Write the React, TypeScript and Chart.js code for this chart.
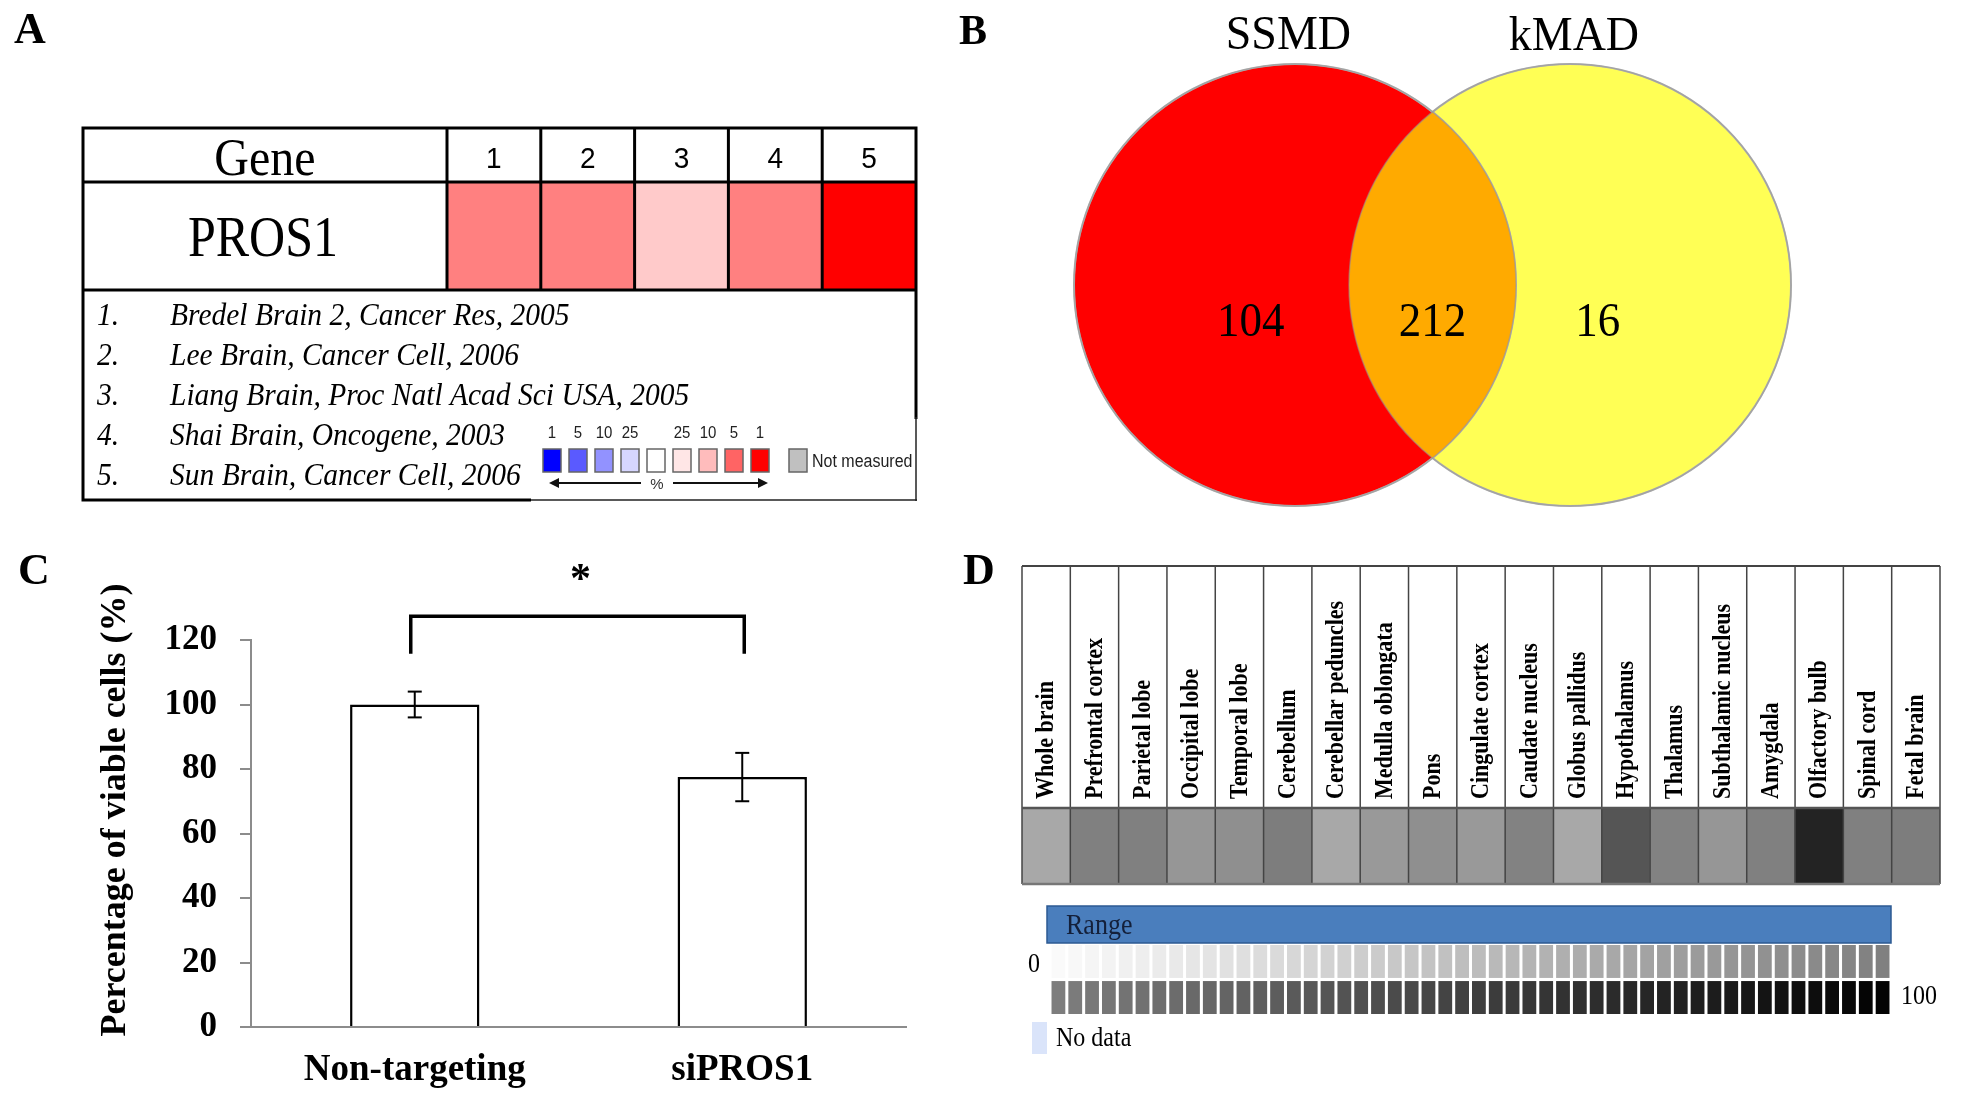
import React, { useEffect, useRef } from 'react';
import { Chart, registerables } from 'chart.js';

Chart.register(...registerables);

const W = 1964;
const H = 1104;
const SERIF = '"Liberation Serif", "Times New Roman", serif';
const SANS = '"Liberation Sans", Arial, sans-serif';

// ---------- Panel A data ----------
const studyNumbers = ['1', '2', '3', '4', '5'];
const studyRefs = [
  'Bredel Brain 2, Cancer Res, 2005',
  'Lee Brain, Cancer Cell, 2006',
  'Liang Brain, Proc Natl Acad Sci USA, 2005',
  'Shai Brain, Oncogene, 2003',
  'Sun Brain, Cancer Cell, 2006',
];
const geneName = 'PROS1';
const pros1TopPercent = [5, 5, 10, 5, 1];
const legendPercentLabels = ['1', '5', '10', '25', '', '25', '10', '5', '1'];

// ---------- Panel B data ----------
const vennSetLabels = ['SSMD', 'kMAD'];
const vennCounts = [104, 212, 16];

// ---------- Panel C data ----------
const viabilityGroups = ['Non-targeting', 'siPROS1'];
const viabilityMeans = [100, 77.5];
const viabilityErrors = [4, 7.5];
const viabilityTicks = [0, 20, 40, 60, 80, 100, 120];

// ---------- Panel D data ----------
const brainRegions = [
  'Whole brain', 'Prefrontal cortex', 'Parietal lobe', 'Occipital lobe', 'Temporal lobe',
  'Cerebellum', 'Cerebellar peduncles', 'Medulla oblongata', 'Pons', 'Cingulate cortex',
  'Caudate nucleus', 'Globus pallidus', 'Hypothalamus', 'Thalamus', 'Subthalamic nucleus',
  'Amygdala', 'Olfactory bulb', 'Spinal cord', 'Fetal brain',
];
const regionExpression = [33, 49, 49, 40, 43, 50, 33, 39, 43, 39, 48, 33, 66, 48, 40, 49, 86, 49, 50];
// colour key levels 0..99 of the "Range" scale
const rangeSteps = Array.from({ length: 100 }, (_, i) => i);

// ---------- styles ----------
const upColors: Record<number, string> = { 1: '#ff0000', 5: '#ff8080', 10: '#ffcaca', 25: '#ffe6e6' };
const legendColors = ['#0000ff', '#5a5aff', '#9292ff', '#d6d6ff', '#ffffff', '#ffe6e6', '#ffbcbc', '#ff6464', '#ff0000'];
const grayFor = (v: number) => {
  const g = Math.max(0, Math.round(250 - 2.5 * v));
  return `rgb(${g},${g},${g})`;
};

function txt(ctx: any, s: string, x: number, y: number, font: string, align = 'left', baseline = 'alphabetic', color = '#000', sy = 1) {
  ctx.save();
  ctx.font = font;
  ctx.textAlign = align;
  ctx.textBaseline = baseline;
  ctx.fillStyle = color;
  ctx.translate(x, y);
  ctx.scale(1, sy);
  ctx.fillText(s, 0, 0);
  ctx.restore();
}

function line(ctx: any, x1: number, y1: number, x2: number, y2: number, w: number, color: string) {
  ctx.save();
  ctx.beginPath();
  ctx.moveTo(x1, y1);
  ctx.lineTo(x2, y2);
  ctx.lineWidth = w;
  ctx.strokeStyle = color;
  ctx.stroke();
  ctx.restore();
}

const baseOpts = {
  responsive: false,
  animation: false as const,
  devicePixelRatio: 1,
  events: [] as any[],
};

// ---------- Panel A ----------
const tablePlugin = {
  id: 'tableA',
  afterDraw(chart: any) {
    const { ctx, chartArea: ca, scales } = chart;
    const x = scales.x;
    const L = 83, T = 128, B = 500, R = ca.right;
    const half = (x.getPixelForValue(1) - x.getPixelForValue(0)) / 2;
    txt(ctx, 'A', 14, 43, `bold 44px ${SERIF}`);
    ctx.save();
    ctx.lineWidth = 3;
    ctx.strokeStyle = '#000';
    ctx.strokeRect(L, T, R - L, B - T);
    ctx.restore();
    line(ctx, L, ca.top, R, ca.top, 3, '#000');
    line(ctx, L, ca.bottom, R, ca.bottom, 3, '#000');
    line(ctx, ca.left, T, ca.left, ca.bottom, 3, '#000');
    studyNumbers.forEach((n, i) => {
      const cx = x.getPixelForValue(i);
      if (i > 0) line(ctx, cx - half, T, cx - half, ca.bottom, 3, '#000');
      txt(ctx, n, cx, 168, `28px ${SANS}`, 'center', 'alphabetic', '#000', 1.08);
    });
    txt(ctx, 'Gene', (L + ca.left) / 2, 175, `48px ${SERIF}`, 'center', 'alphabetic', '#000', 1.08);
    txt(ctx, geneName, (L + ca.left) / 2 - 2, 256, `50px ${SERIF}`, 'center', 'alphabetic', '#000', 1.14);
    studyRefs.forEach((r, i) => {
      const y = 325 + i * 40;
      txt(ctx, `${i + 1}.`, 97, y, `italic 29.5px ${SERIF}`, 'left', 'alphabetic', '#000', 1.08);
      txt(ctx, r, 170, y, `italic 29.5px ${SERIF}`, 'left', 'alphabetic', '#000', 1.08);
    });
    // legend box
    ctx.save();
    ctx.fillStyle = '#fff';
    ctx.fillRect(531, 419, R - 531 + 3, B - 419 + 3);
    ctx.restore();
    line(ctx, R, 417, R, B + 1, 1.5, '#222');
    line(ctx, 531, B, R + 1, B, 1.5, '#222');
    legendColors.forEach((c, i) => {
      const sx = 543 + i * 26;
      ctx.save();
      ctx.fillStyle = c;
      ctx.fillRect(sx, 449, 18, 23);
      ctx.lineWidth = 1.5;
      ctx.strokeStyle = '#666';
      ctx.strokeRect(sx, 449, 18, 23);
      ctx.restore();
      if (legendPercentLabels[i]) txt(ctx, legendPercentLabels[i], sx + 9, 433, `15px ${SANS}`, 'center', 'middle', '#222', 1.1);
    });
    ctx.save();
    ctx.fillStyle = '#c0c0c0';
    ctx.fillRect(789, 449, 18, 23);
    ctx.lineWidth = 1.5;
    ctx.strokeStyle = '#666';
    ctx.strokeRect(789, 449, 18, 23);
    ctx.restore();
    txt(ctx, 'Not measured', 812, 462, `16px ${SANS}`, 'left', 'middle', '#222', 1.1);
    line(ctx, 556, 483, 641, 483, 2, '#111');
    line(ctx, 673, 483, 760, 483, 2, '#111');
    ctx.save();
    ctx.fillStyle = '#111';
    ctx.beginPath();
    ctx.moveTo(549, 483); ctx.lineTo(559, 478); ctx.lineTo(559, 488); ctx.closePath(); ctx.fill();
    ctx.beginPath();
    ctx.moveTo(768, 483); ctx.lineTo(758, 478); ctx.lineTo(758, 488); ctx.closePath(); ctx.fill();
    ctx.restore();
    txt(ctx, '%', 657, 485, `15px ${SANS}`, 'center', 'middle', '#333');
  },
};

function makeA(canvas: HTMLCanvasElement) {
  return new Chart(canvas, {
    type: 'bar',
    data: {
      labels: studyNumbers,
      datasets: [{
        data: studyNumbers.map(() => [0, 1]) as any,
        backgroundColor: pros1TopPercent.map((p) => upColors[p]),
        borderWidth: 0,
        categoryPercentage: 1,
        barPercentage: 1,
      }],
    },
    options: {
      ...baseOpts,
      layout: { padding: { left: 447, right: W - 916, top: 182, bottom: H - 290 } },
      scales: { x: { display: false }, y: { display: false, min: 0, max: 1 } },
      plugins: { legend: { display: false }, tooltip: { enabled: false } },
    } as any,
    plugins: [tablePlugin],
  });
}

// ---------- Panel B ----------
const VENN_OFFSET = 275 / 221;
const vennLabelX = [-0.2, VENN_OFFSET / 2, 1.37];
const vennPlugin = {
  id: 'venn',
  afterDatasetsDraw(chart: any) {
    const { ctx, scales: { x, y } } = chart;
    const p0 = chart.getDatasetMeta(0).data[0];
    const p1 = chart.getDatasetMeta(1).data[0];
    const r0 = p0.options.radius;
    const r1 = p1.options.radius;
    ctx.save();
    ctx.beginPath();
    ctx.arc(p0.x, p0.y, r0, 0, Math.PI * 2);
    ctx.clip();
    ctx.beginPath();
    ctx.arc(p1.x, p1.y, r1, 0, Math.PI * 2);
    ctx.fillStyle = '#ffaa00';
    ctx.fill();
    ctx.restore();
    ctx.save();
    ctx.lineWidth = 1.5;
    ctx.strokeStyle = 'rgba(150,150,150,0.55)';
    ctx.beginPath(); ctx.arc(p0.x, p0.y, r0, 0, Math.PI * 2); ctx.stroke();
    ctx.beginPath(); ctx.arc(p1.x, p1.y, r1, 0, Math.PI * 2); ctx.stroke();
    ctx.restore();
    vennCounts.forEach((c, i) => {
      txt(ctx, String(c), x.getPixelForValue(vennLabelX[i]), y.getPixelForValue(-0.185) + 10, `45px ${SERIF}`, 'center', 'alphabetic', '#000', 1.08);
    });
    txt(ctx, vennSetLabels[0], x.getPixelForValue(-0.03), 49, `46px ${SERIF}`, 'center', 'alphabetic', '#000', 1.05);
    txt(ctx, vennSetLabels[1], x.getPixelForValue(1.262), 50, `46px ${SERIF}`, 'center', 'alphabetic', '#000', 1.05);
    txt(ctx, 'B', 959, 44, `bold 42px ${SERIF}`);
  },
};

function makeB(canvas: HTMLCanvasElement) {
  const rad = (c: any) => {
    const s = c.chart.scales.x;
    return s ? Math.abs(s.getPixelForValue(1) - s.getPixelForValue(0)) : 0;
  };
  return new Chart(canvas, {
    type: 'scatter',
    data: {
      datasets: [
        {
          label: vennSetLabels[0], data: [{ x: 0, y: 0 }],
          pointBackgroundColor: '#ff0000', pointBorderColor: '#b4b4b4', pointBorderWidth: 2,
          pointRadius: rad, clip: false,
        },
        {
          label: vennSetLabels[1], data: [{ x: VENN_OFFSET, y: 0 }],
          pointBackgroundColor: '#ffff55', pointBorderColor: '#b4b4b4', pointBorderWidth: 2,
          pointRadius: rad, clip: false,
        },
      ],
    },
    options: {
      ...baseOpts,
      layout: { padding: { left: 1074, right: W - 1791, top: 64, bottom: H - 506 } },
      scales: {
        x: { display: false, type: 'linear', min: -1, max: VENN_OFFSET + 1 },
        y: { display: false, type: 'linear', min: -1, max: 1 },
      },
      plugins: { legend: { display: false }, tooltip: { enabled: false } },
    } as any,
    plugins: [vennPlugin],
  });
}

// ---------- Panel C ----------
const barExtras = {
  id: 'barExtras',
  afterDatasetsDraw(chart: any) {
    const { ctx, scales: { y } } = chart;
    const meta = chart.getDatasetMeta(0);
    viabilityMeans.forEach((m, i) => {
      const bx = meta.data[i].x;
      const yt = y.getPixelForValue(m + viabilityErrors[i]);
      const yb = y.getPixelForValue(m - viabilityErrors[i]);
      line(ctx, bx, yt, bx, yb, 2, '#000');
      line(ctx, bx - 7, yt, bx + 7, yt, 2, '#000');
      line(ctx, bx - 7, yb, bx + 7, yb, 2, '#000');
    });
    const x0 = meta.data[0].x - 4;
    const x1 = meta.data[1].x + 2;
    const yTop = y.getPixelForValue(127.4);
    const yLeg = y.getPixelForValue(115.7);
    ctx.save();
    ctx.beginPath();
    ctx.moveTo(x0, yLeg);
    ctx.lineTo(x0, yTop);
    ctx.lineTo(x1, yTop);
    ctx.lineTo(x1, yLeg);
    ctx.lineWidth = 3.5;
    ctx.strokeStyle = '#000';
    ctx.stroke();
    ctx.restore();
    txt(ctx, '*', (x0 + x1) / 2 + 3, y.getPixelForValue(141.7) + 22, `bold 42px ${SERIF}`, 'center');
  },
  afterDraw(chart: any) {
    const { ctx } = chart;
    txt(ctx, 'C', 18, 584, `bold 44px ${SERIF}`);
    ctx.save();
    ctx.translate(116, 810);
    ctx.rotate(-Math.PI / 2);
    txt(ctx, 'Percentage of viable cells (%)', 0, 0, `bold 36px ${SERIF}`, 'center', 'middle');
    ctx.restore();
  },
};

function makeC(canvas: HTMLCanvasElement) {
  return new Chart(canvas, {
    type: 'bar',
    data: {
      labels: viabilityGroups,
      datasets: [{
        data: viabilityMeans,
        backgroundColor: '#ffffff',
        borderColor: '#000000',
        borderWidth: 2.5,
        categoryPercentage: 1,
        barPercentage: 0.395,
      }],
    },
    options: {
      ...baseOpts,
      layout: { padding: { left: 0, right: W - 906, top: 640, bottom: 0 } },
      scales: {
        x: {
          grid: { display: false, drawTicks: false },
          border: { display: true, color: '#8c8c8c', width: 2 },
          ticks: { font: { family: SERIF, size: 37, weight: 'bold' }, color: '#000', padding: 21, maxRotation: 0 },
          afterFit: (s: any) => { s.height = 77; },
        },
        y: {
          min: 0,
          max: 120,
          afterBuildTicks: (s: any) => { s.ticks = viabilityTicks.map((v) => ({ value: v })); },
          ticks: { font: { family: SERIF, size: 35, weight: 'bold' }, color: '#000', padding: 23 },
          grid: { display: true, drawOnChartArea: false, drawTicks: true, tickLength: 11, color: '#8c8c8c', lineWidth: 2 },
          border: { display: true, color: '#8c8c8c', width: 2 },
          afterFit: (s: any) => { s.width = 251; },
        },
      },
      plugins: { legend: { display: false }, tooltip: { enabled: false } },
    } as any,
    plugins: [barExtras],
  });
}

// ---------- Panel D ----------
const tissuePlugin = {
  id: 'tissue',
  afterDraw(chart: any) {
    const { ctx, chartArea: ca, scales: { x } } = chart;
    const T = 566;
    const half = (x.getPixelForValue(1) - x.getPixelForValue(0)) / 2;
    txt(ctx, 'D', 963, 584, `bold 44px ${SERIF}`);
    brainRegions.forEach((r, i) => {
      const cx = x.getPixelForValue(i);
      ctx.save();
      ctx.translate(cx + 1, 799);
      ctx.rotate(-Math.PI / 2);
      txt(ctx, r, 0, 0, `bold 22px ${SERIF}`, 'left', 'middle', '#000', 1.1);
      ctx.restore();
      if (i > 0) line(ctx, cx - half, T, cx - half, ca.bottom, 1.5, '#444');
    });
    line(ctx, ca.left, T, ca.left, ca.bottom, 1.5, '#444');
    line(ctx, ca.right, T, ca.right, ca.bottom, 1.5, '#444');
    line(ctx, ca.left, T, ca.right, T, 2, '#444');
    line(ctx, ca.left, ca.top, ca.right, ca.top, 2.5, '#555');
    line(ctx, ca.left, ca.bottom, ca.right, ca.bottom, 2.5, '#777');
  },
};

function makeD(canvas: HTMLCanvasElement) {
  return new Chart(canvas, {
    type: 'bar',
    data: {
      labels: brainRegions,
      datasets: [{
        data: brainRegions.map(() => [0, 1]) as any,
        backgroundColor: regionExpression.map(grayFor),
        borderWidth: 0,
        categoryPercentage: 1,
        barPercentage: 1,
      }],
    },
    options: {
      ...baseOpts,
      layout: { padding: { left: 1022, right: W - 1940, top: 808, bottom: H - 884 } },
      scales: { x: { display: false }, y: { display: false, min: 0, max: 1 } },
      plugins: { legend: { display: false }, tooltip: { enabled: false } },
    } as any,
    plugins: [tissuePlugin],
  });
}

const rangePlugin = {
  id: 'rangeKey',
  afterDraw(chart: any) {
    const { ctx, chartArea: ca } = chart;
    ctx.save();
    ctx.fillStyle = '#4a7ebd';
    ctx.fillRect(ca.left - 3, 906, ca.right - ca.left + 3, 37);
    ctx.lineWidth = 1.5;
    ctx.strokeStyle = '#2c5a92';
    ctx.strokeRect(ca.left - 3, 906, ca.right - ca.left + 3, 37);
    ctx.restore();
    txt(ctx, 'Range', 1066, 926, `26px ${SERIF}`, 'left', 'middle', '#14203a', 1.1);
    txt(ctx, '0', 1034, 965, `24px ${SERIF}`, 'center', 'middle', '#000', 1.1);
    txt(ctx, '100', 1901, 997, `24px ${SERIF}`, 'left', 'middle', '#000', 1.1);
    ctx.save();
    ctx.fillStyle = '#dae4fa';
    ctx.fillRect(1032, 1022, 15, 32);
    ctx.restore();
    txt(ctx, 'No data', 1056, 1039, `24px ${SERIF}`, 'left', 'middle', '#000', 1.1);
  },
};

function makeRange(canvas: HTMLCanvasElement) {
  const lowRow = rangeSteps.slice(0, 50);
  const highRow = rangeSteps.slice(50);
  return new Chart(canvas, {
    type: 'bar',
    data: {
      labels: lowRow.map(String),
      datasets: [
        {
          data: lowRow.map(() => [1.045, 2]) as any,
          backgroundColor: lowRow.map(grayFor),
          borderWidth: 0, categoryPercentage: 1, barPercentage: 0.82, grouped: false,
        },
        {
          data: highRow.map(() => [0, 0.955]) as any,
          backgroundColor: highRow.map(grayFor),
          borderWidth: 0, categoryPercentage: 1, barPercentage: 0.82, grouped: false,
        },
      ],
    },
    options: {
      ...baseOpts,
      layout: { padding: { left: 1050, right: W - 1891, top: 945, bottom: H - 1014 } },
      scales: { x: { display: false }, y: { display: false, min: 0, max: 2 } },
      plugins: { legend: { display: false }, tooltip: { enabled: false } },
    } as any,
    plugins: [rangePlugin],
  });
}

export default function App() {
  const rA = useRef<HTMLCanvasElement>(null);
  const rB = useRef<HTMLCanvasElement>(null);
  const rC = useRef<HTMLCanvasElement>(null);
  const rD = useRef<HTMLCanvasElement>(null);
  const rR = useRef<HTMLCanvasElement>(null);

  useEffect(() => {
    const charts = [
      makeA(rA.current!),
      makeB(rB.current!),
      makeC(rC.current!),
      makeD(rD.current!),
      makeRange(rR.current!),
    ];
    return () => charts.forEach((c) => c.destroy());
  }, []);

  const cs: React.CSSProperties = { position: 'absolute', left: 0, top: 0, width: W, height: H };
  return (
    <div style={{ position: 'absolute', left: 0, top: 0, width: W, height: H, background: '#fff', overflow: 'hidden' }}>
      <canvas ref={rA} width={W} height={H} style={cs} />
      <canvas ref={rB} width={W} height={H} style={cs} />
      <canvas ref={rC} width={W} height={H} style={cs} />
      <canvas ref={rD} width={W} height={H} style={cs} />
      <canvas ref={rR} width={W} height={H} style={cs} />
    </div>
  );
}
